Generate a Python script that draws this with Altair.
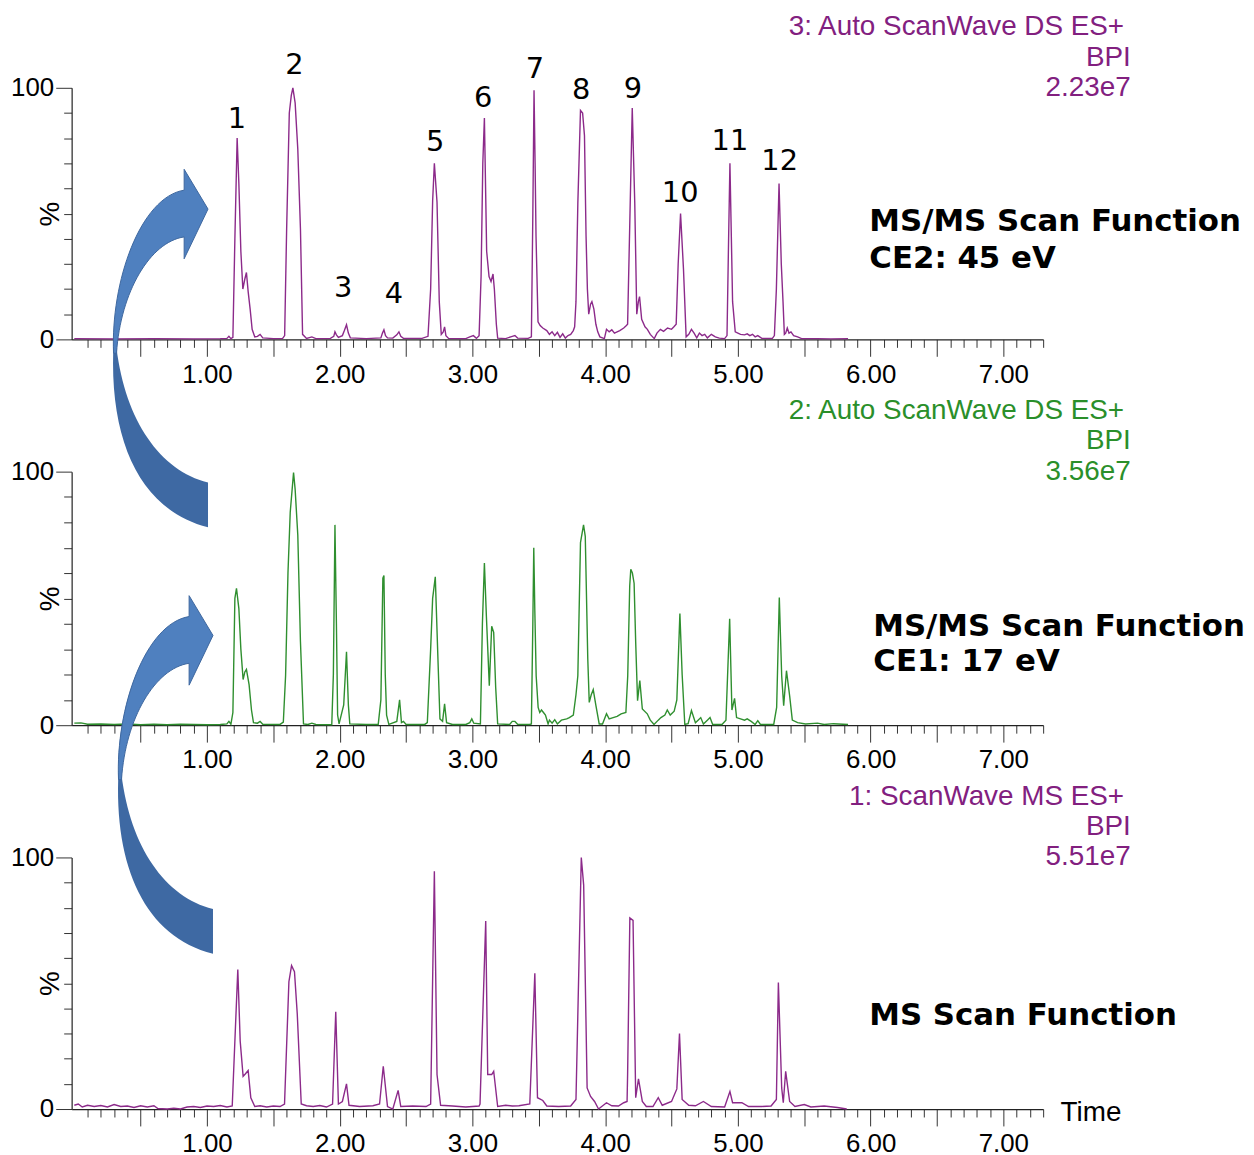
import altair as alt
import pandas as pd

# ---------------- data ----------------
# Top trace: 3: Auto ScanWave DS ES+ (CE2)
top_t = [0.00, 0.30, 0.60, 0.90, 1.10, 1.15, 1.165, 1.18, 1.195, 1.21, 1.227, 1.24, 1.255, 1.27, 1.285, 1.297,
         1.31, 1.325, 1.34, 1.36, 1.38, 1.40, 1.42, 1.50, 1.57, 1.585, 1.60, 1.62, 1.635, 1.647, 1.664, 1.684,
         1.704, 1.72, 1.75, 1.79, 1.82, 1.93, 1.955, 1.964, 1.975, 1.99, 2.02, 2.035, 2.051, 2.065, 2.08, 2.20,
         2.31, 2.322, 2.333, 2.345, 2.36, 2.40, 2.43, 2.446, 2.46, 2.48, 2.62, 2.665, 2.685, 2.70, 2.713, 2.733,
         2.75, 2.765, 2.78, 2.79, 2.80, 2.82, 2.95, 2.98, 3.007, 3.03, 3.05, 3.065, 3.078, 3.09, 3.107, 3.125,
         3.14, 3.155, 3.165, 3.18, 3.19, 3.25, 3.30, 3.32, 3.34, 3.42, 3.444, 3.455, 3.464, 3.472, 3.479, 3.494,
         3.51, 3.53, 3.56, 3.58, 3.60, 3.62, 3.64, 3.66, 3.68, 3.70, 3.72, 3.74, 3.76, 3.77, 3.78, 3.794, 3.814,
         3.83, 3.844, 3.856, 3.866, 3.876, 3.89, 3.90, 3.915, 3.93, 3.944, 3.96, 3.994, 4.01, 4.03, 4.05, 4.07,
         4.09, 4.11, 4.14, 4.16, 4.169, 4.185, 4.204, 4.215, 4.223, 4.238, 4.25, 4.259, 4.275, 4.30, 4.318, 4.34,
         4.37, 4.39, 4.416, 4.44, 4.47, 4.50, 4.518, 4.535, 4.55, 4.568, 4.59, 4.61, 4.63, 4.65, 4.67, 4.69, 4.71,
         4.73, 4.75, 4.77, 4.80, 4.83, 4.86, 4.90, 4.918, 4.93, 4.94, 4.96, 4.98, 5.00, 5.02, 5.05, 5.07, 5.09,
         5.11, 5.13, 5.15, 5.18, 5.26, 5.275, 5.29, 5.31, 5.327, 5.34, 5.35, 5.36, 5.372, 5.385, 5.40, 5.42, 5.45,
         5.48, 5.60, 5.70, 5.83]
top_v = [0.3, 0.2, 0.3, 0.2, 0.3, 0.4, 1.2, 0.3, 0.8, 40, 80, 62, 35, 20, 24, 26.6,
         19, 12, 4, 1, 1.2, 2, 0.6, 0.3, 0.4, 1.5, 44, 90, 97, 100, 94, 75.6,
         44, 2, 0.4, 1.0, 0.3, 0.4, 1.2, 3, 1.8, 0.8, 1.5, 3.5, 5.8, 2.5, 0.6, 0.3,
         0.6, 2.5, 3.8, 1.5, 0.6, 0.5, 1.8, 3, 1.2, 0.4, 0.4, 1.2, 20, 55, 70, 54.5,
         15, 2, 3, 5, 1.5, 0.4, 0.3, 1, 1.5, 0.4, 1.5, 25, 70, 88, 35, 25,
         23, 26, 20, 6, 0.5, 0.3, 1.2, 1.5, 0.5, 0.4, 1, 50, 99, 70, 41, 7,
         5.5, 4.5, 3.5, 2, 3, 1.5, 2.8, 0.8, 2.2, 0.5, 1.5, 2, 3.5, 5, 15, 54, 91,
         90, 81, 41, 20, 10, 14, 15, 12, 6, 3, 1, 0.3, 4, 3, 3.8, 2.5,
         3, 3.5, 4.5, 5.5, 6, 45, 92, 70, 54, 10, 15, 17, 8, 5, 4, 2,
         0.3, 2.5, 4, 3.2, 4.5, 4, 5, 6, 30, 50, 28, 1, 2, 4, 2.5, 0.6, 2.5,
         1.5, 2, 0.6, 2, 1, 0.5, 0.3, 1.5, 40, 70, 15, 3, 2.5, 2.0, 1.8, 2.2, 1.5,
         2.0, 1, 1.5, 0.4, 0.4, 1.5, 20, 62, 30, 15, 2, 2.5, 4.5, 2.5, 3, 1.5, 1,
         0.3, 0.3, 0.2, 0.3]

# Middle trace: 2: Auto ScanWave DS ES+ (CE1)
mid_t = [0.00, 0.05, 0.10, 0.20, 0.30, 0.40, 0.50, 0.60, 0.70, 0.80, 0.90, 1.00, 1.10, 1.15, 1.165, 1.18,
         1.195, 1.21, 1.222, 1.24, 1.255, 1.272, 1.285, 1.297, 1.317, 1.335, 1.35, 1.38, 1.40, 1.42, 1.55,
         1.575, 1.592, 1.61, 1.627, 1.652, 1.664, 1.684, 1.704, 1.727, 1.76, 1.79, 1.82, 1.94, 1.952, 1.964,
         1.975, 1.984, 1.995, 2.03, 2.051, 2.065, 2.076, 2.20, 2.29, 2.31, 2.325, 2.333, 2.343, 2.353, 2.37,
         2.43, 2.451, 2.465, 2.48, 2.50, 2.64, 2.66, 2.685, 2.70, 2.72, 2.74, 2.755, 2.775, 2.79, 2.805, 2.85,
         2.95, 2.98, 2.995, 3.01, 3.06, 3.075, 3.09, 3.105, 3.127, 3.145, 3.16, 3.175, 3.19, 3.28, 3.30, 3.32,
         3.34, 3.43, 3.444, 3.455, 3.462, 3.47, 3.48, 3.495, 3.507, 3.52, 3.535, 3.55, 3.57, 3.58, 3.60, 3.62,
         3.64, 3.67, 3.71, 3.73, 3.76, 3.78, 3.794, 3.814, 3.837, 3.85, 3.869, 3.88, 3.895, 3.91, 3.93, 3.955,
         3.98, 4.01, 4.03, 4.06, 4.09, 4.12, 4.156, 4.17, 4.185, 4.193, 4.205, 4.218, 4.23, 4.244, 4.261, 4.28,
         4.317, 4.34, 4.368, 4.40, 4.42, 4.45, 4.468, 4.49, 4.52, 4.54, 4.563, 4.58, 4.60, 4.625, 4.65, 4.68,
         4.70, 4.72, 4.74, 4.77, 4.79, 4.81, 4.88, 4.91, 4.938, 4.955, 4.975, 4.99, 5.02, 5.05, 5.07, 5.10, 5.13,
         5.15, 5.17, 5.27, 5.292, 5.312, 5.33, 5.345, 5.366, 5.39, 5.41, 5.45, 5.51, 5.60, 5.65, 5.72, 5.83]
mid_v = [0.8, 0.9, 0.4, 0.5, 0.3, 0.5, 0.2, 0.4, 0.2, 0.4, 0.3, 0.2, 0.3, 0.5, 1.5, 0.4,
         5, 50, 54, 46, 30, 18, 21, 22, 16, 6, 1, 0.8, 1.5, 0.4, 0.3,
         1.2, 19.5, 60, 84, 99.6, 93, 75, 33, 0.5, 0.3, 0.8, 0.3, 0.2, 20, 79,
         40, 4, 0.5, 8, 29, 8, 0.5, 0.3, 0.3, 10, 58, 59, 20, 4, 0.3,
         1.5, 10, 1, 1.5, 0.3, 0.3, 1.0, 30, 50, 58.5, 26, 2.5, 1.5, 8.4, 1, 0.3,
         0.3, 1.0, 2.5, 0.8, 0.5, 40, 64, 43, 15.6, 39, 36.6, 15, 0.5, 0.3, 1.5, 1.5,
         0.4, 0.3, 0.5, 40, 70, 45, 19.5, 7, 5, 6, 5, 4, 0.5, 2, 0.8, 2.2,
         0.5, 2, 2.5, 3, 4, 12, 19.5, 72, 79, 74.5, 26, 9, 12, 14, 7.8, 0.5,
         0.5, 4.5, 2.5, 3, 3.5, 4.5, 5, 19.5, 55, 61.5, 60, 56, 32.6, 9.7, 17.6, 6.4,
         4.5, 2, 0.3, 2, 3, 4, 6, 4, 5.5, 10, 44, 20, 0.3, 0.6, 5.8, 1,
         2, 3, 0.5, 2, 3, 0.3, 0.3, 2, 42, 6, 10.6, 3, 2.5, 2, 2.5, 1.5, 0.3,
         1.8, 0.3, 0.3, 7, 50.4, 19.5, 7.7, 21.5, 11.6, 2, 1, 0.5, 0.8, 0.3, 0.6, 0.3]

# Bottom trace: 1: ScanWave MS ES+
bot_t = [0.00, 0.03, 0.06, 0.10, 0.15, 0.20, 0.25, 0.30, 0.35, 0.40, 0.45, 0.50, 0.55, 0.60, 0.63, 0.70,
         0.75, 0.80, 0.85, 0.90, 0.95, 1.00, 1.05, 1.10, 1.15, 1.19, 1.232, 1.25, 1.272, 1.29, 1.31, 1.33,
         1.36, 1.40, 1.45, 1.50, 1.55, 1.584, 1.617, 1.637, 1.659, 1.68, 1.71, 1.75, 1.80, 1.85, 1.90, 1.946,
         1.97, 1.99, 2.02, 2.051, 2.07, 2.15, 2.25, 2.30, 2.328, 2.36, 2.40, 2.44, 2.46, 2.55, 2.65, 2.685,
         2.713, 2.733, 2.76, 2.85, 2.95, 3.05, 3.057, 3.10, 3.115, 3.145, 3.16, 3.19, 3.25, 3.30, 3.35, 3.432,
         3.47, 3.49, 3.53, 3.56, 3.65, 3.74, 3.78, 3.82, 3.838, 3.864, 3.89, 3.92, 3.95, 4.01, 4.05, 4.10,
         4.14, 4.165, 4.169, 4.186, 4.21, 4.23, 4.251, 4.28, 4.31, 4.36, 4.40, 4.43, 4.50, 4.54, 4.56, 4.58,
         4.63, 4.68, 4.74, 4.80, 4.90, 4.94, 4.96, 5.03, 5.08, 5.18, 5.25, 5.29, 5.305, 5.33, 5.342, 5.36,
         5.39, 5.43, 5.50, 5.55, 5.65, 5.75, 5.82]
bot_v = [1.5, 2.0, 0.8, 1.5, 1.0, 1.4, 0.8, 1.8, 1.0, 1.2, 0.6, 1.3, 0.8, 1.3, 0.2, 0.0,
         0.3, 0.0, 0.8, 1.0, 0.6, 1.2, 1.0, 1.4, 0.8, 1.2, 55.5, 27, 13, 14, 15.3, 4.5,
         1, 1.3, 0.8, 1.2, 1.0, 2, 50.6, 57, 54.6, 37.8, 2, 1.3, 1.0, 1.4, 0.8, 2,
         38.7, 2, 3, 10, 1.5, 1.0, 1.3, 2, 17, 1, 0, 7.4, 1, 1.2, 1.0, 2,
         94.5, 13.7, 1.5, 1.2, 0.8, 1.2, 2, 74.7, 13.7, 13.7, 15, 1, 1.5, 1.2, 1.3, 2,
         54, 4.5, 3.4, 1.2, 1.0, 1.2, 3.8, 100, 89, 8.4, 5, 3, 0, 2.5, 1.3, 1.2,
         2.5, 3, 13.7, 76, 75, 4.5, 12, 3, 1, 1, 4.5, 1.5, 3, 8, 30, 3.8,
         1.5, 1.3, 3, 1, 0.8, 7, 2.5, 2.5, 1, 1, 1.2, 3.8, 50.3, 8.4, 2.5, 15,
         3, 1, 1.8, 0.8, 1.2, 0.6, 0]

# Peak numbers on the top trace (time, height in %)
peak_ids = ["1", "2", "3", "4", "5", "6", "7", "8", "9", "10", "11", "12"]
peak_label_t = [1.225, 1.659, 2.026, 2.408, 2.72, 3.08, 3.47, 3.82, 4.21, 4.565, 4.94, 5.315]
peak_label_v = [87.4, 109.1, 20.6, 18.2, 78.3, 96.0, 107.5, 99.2, 99.6, 58.1, 78.7, 70.8]

header_top = ["3: Auto ScanWave DS ES+", "BPI", "2.23e7"]
header_mid = ["2: Auto ScanWave DS ES+", "BPI", "3.56e7"]
header_bot = ["1: ScanWave MS ES+", "BPI", "5.51e7"]
header_t = [7.91, 7.96, 7.96]
header_v = [124.0, 112.0, 100.0]

func_top = ["MS/MS Scan Function", "CE2: 45 eV"]
func_mid = ["MS/MS Scan Function", "CE1: 17 eV"]
func_bot = ["MS Scan Function"]
func_top_v = [46.6, 32.0]
func_mid_v = [38.6, 24.8]
func_bot_v = [36.8]
func_top_t, func_mid_t, func_bot_t = 5.99, 6.02, 5.99

arrow_top = (1.0075, 51.8)
arrow_mid = (1.045, 35.4)

# ---------------- styling ----------------
PURPLE_LINE = "#8c2a8a"
PURPLE_TEXT = "#82207f"
GREEN_LINE = "#2f8f2f"
GREEN_TEXT = "#2a8f2a"
ARROW_LIGHT = "#4f80bf"
ARROW_EDGE = "#3d679e"
ARROW_DARK = "#3e69a3"

X_DOM = [-0.02, 7.3]
W = 977
x_ticks = [round(i / 10, 1) for i in range(1, 74)]
y_ticks = list(range(0, 101, 10))

# arrow outline, offsets in px from the arrow tip
LIGHT_PATH = ("M -95 145 C -98 73 -68 -12 -24 -19 L -24 -40 L 0 0 L -24 50 L -24 28 "
              "C -58 33 -88 83 -92 145 Z")
DARK_PATH = ("M -95 136 C -100 233 -68 303 0 320 L 0 275 C -48 263 -83 213 -92 140 Z")


def x_axis(bottom=False):
    kw = dict(
        values=x_ticks,
        tickSize={"condition": {"test": "abs(datum.value*2 - round(datum.value*2)) < 0.001", "value": 17},
                  "value": 8},
        labelExpr="abs(datum.value - round(datum.value)) < 0.001 ? format(datum.value, '.2f') : ''",
        labelOverlap=False, labelFlush=False, labelPadding=5,
        labelFont="Liberation Sans", labelFontSize=26, labelColor="black",
        domainColor="#222", tickColor="#333", tickWidth=1, domainWidth=1.2, grid=False,
        title="Time" if bottom else "",
    )
    if bottom:
        kw.update(titleX=994, titleY=4, titleAlign="left", titleBaseline="middle", titleAngle=0,
                  titleFont="Liberation Sans", titleFontSize=28, titleFontWeight="normal", titleColor="black")
    return alt.Axis(**kw)


def y_axis(h):
    return alt.Axis(
        values=y_ticks,
        tickSize={"condition": {"test": "datum.value == 0 || datum.value == 100", "value": 16}, "value": 8},
        labelExpr="datum.value == 0 || datum.value == 100 ? datum.label : ''",
        labelOverlap=False, labelPadding=2,
        labelFont="Liberation Sans", labelFontSize=26, labelColor="black",
        domainColor="#222", tickColor="#333", domainWidth=1.2, grid=False,
        title="%", titleFont="Liberation Sans", titleFontSize=28, titleFontWeight="normal", titleColor="black",
        titleAngle=270, titleX=-21, titleY=h / 2, titleAlign="center", titleBaseline="middle",
    )


xs = alt.Scale(domain=X_DOM, nice=False, zero=False)
ys = alt.Scale(domain=[0, 100], nice=False, zero=False)


def panel(t, v, line_color, header, text_color, funcs, func_t, func_v, h,
          labels=False, arrow=None, bottom=False):
    xa = x_axis(bottom)
    ya = y_axis(h)

    def enc():
        return dict(x=alt.X("t:Q", scale=xs, axis=xa), y=alt.Y("v:Q", scale=ys, axis=ya))

    trace = pd.DataFrame({"t": t, "v": v})
    layers = [alt.Chart(trace).mark_line(color=line_color, strokeWidth=1.4).encode(**enc())]
    if labels:
        pk = pd.DataFrame({"t": peak_label_t, "v": peak_label_v, "s": peak_ids})
        layers.append(alt.Chart(pk).mark_text(font="DejaVu Sans", fontSize=29, color="black",
                                              baseline="middle", align="center").encode(text="s:N", **enc()))
    hd = pd.DataFrame({"t": header_t, "v": header_v, "s": header})
    layers.append(alt.Chart(hd).mark_text(font="Liberation Sans", fontSize=28, color=text_color,
                                          align="right", baseline="middle").encode(text="s:N", **enc()))
    fn = pd.DataFrame({"t": [func_t] * len(funcs), "v": func_v, "s": funcs})
    layers.append(alt.Chart(fn).mark_text(font="DejaVu Sans", fontSize=31, fontWeight="bold", color="black",
                                          align="left", baseline="middle").encode(text="s:N", **enc()))
    if arrow is not None:
        ad = pd.DataFrame({"t": [arrow[0]], "v": [arrow[1]]})
        layers.append(alt.Chart(ad).mark_point(shape=DARK_PATH, size=4, filled=True, color=ARROW_DARK,
                                               opacity=1, strokeWidth=0).encode(**enc()))
        layers.append(alt.Chart(ad).mark_point(shape=LIGHT_PATH, size=4, filled=True, fill=ARROW_LIGHT,
                                               stroke=ARROW_EDGE, strokeWidth=1, opacity=1,
                                               fillOpacity=1, strokeOpacity=1).encode(**enc()))
    return alt.layer(*layers).properties(width=W, height=h)


p_top = panel(top_t, top_v, PURPLE_LINE, header_top, PURPLE_TEXT, func_top, func_top_t, func_top_v, 253,
              labels=True, arrow=arrow_top)
p_mid = panel(mid_t, mid_v, GREEN_LINE, header_mid, GREEN_TEXT, func_mid, func_mid_t, func_mid_v, 255,
              arrow=arrow_mid)
p_bot = panel(bot_t, bot_v, PURPLE_LINE, header_bot, PURPLE_TEXT, func_bot, func_bot_t, func_bot_v, 253,
              bottom=True)

chart = alt.vconcat(p_top, p_mid, p_bot, spacing=133, bounds="flush").properties(
    padding={"left": 2, "top": 2, "right": 0, "bottom": 0}
).configure_view(strokeWidth=0)

chart.save("out.html", embed_options={"renderer": "svg", "actions": False})
